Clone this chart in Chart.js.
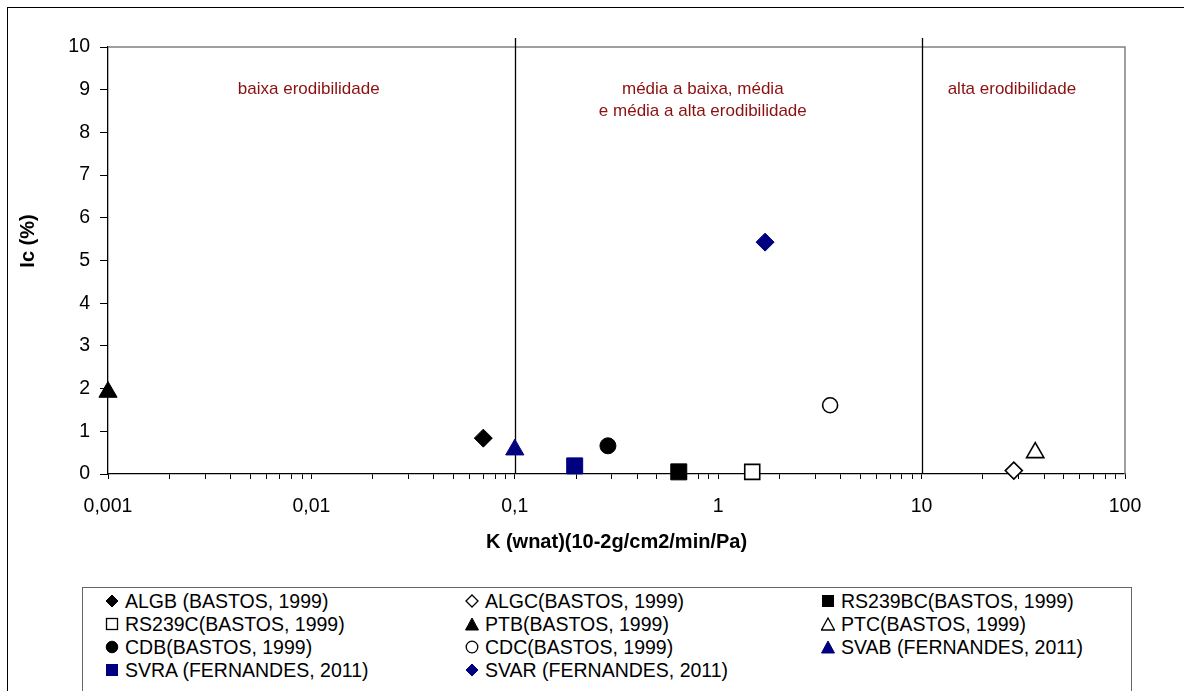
<!DOCTYPE html>
<html>
<head>
<meta charset="utf-8">
<script src="https://cdn.jsdelivr.net/npm/chart.js@4.4.0/dist/chart.umd.min.js"></script>
<style>
body { margin: 0; background: #fff; }
#wrap { position: relative; width: 1184px; height: 691px; overflow: hidden; font-family: Arial, "Liberation Sans", sans-serif; }
#frame { position: absolute; left: 7px; top: 7px; width: 1300px; height: 800px; border-left: 1px solid #000; border-top: 1px solid #000; }
#chart { position: absolute; left: 0; top: 0; }
#legend { position: absolute; left: 82px; top: 587px; width: 1048px; height: 140px; border: 1px solid #666; background: #fff; }
.item { position: absolute; display: flex; align-items: center; height: 23px; font-size: 19.5px; white-space: nowrap; color: #000; }
.item svg { margin-right: 6px; }
</style>
</head>
<body>
<div id="wrap">
  <div id="frame"></div>
  <canvas id="chart" width="1184" height="691"></canvas>
  <div id="legend"></div>
</div>
<script>
// series (one point each)
const seriesNames = ['ALGB (BASTOS, 1999)', 'ALGC(BASTOS, 1999)', 'RS239BC(BASTOS, 1999)',
    'RS239C(BASTOS, 1999)', 'PTB(BASTOS, 1999)', 'PTC(BASTOS, 1999)',
    'CDB(BASTOS, 1999)', 'CDC(BASTOS, 1999)', 'SVAB (FERNANDES, 2011)',
    'SVRA (FERNANDES, 2011)', 'SVAR (FERNANDES, 2011)']
const kValues = [0.07, 28.4, 0.64, 1.47, 0.001, 36.2, 0.287, 3.55, 0.1, 0.197, 1.70]
const icValues = [0.84, 0.08, 0.05, 0.05, 1.92, 0.50, 0.66, 1.61, 0.57, 0.19, 5.43]

// axes
const xMajorTicks = [0.001, 0.01, 0.1, 1, 10, 100]
const xTickLabels = ['0,001', '0,01', '0,1', '1', '10', '100']
const yTicks = [0, 1, 2, 3, 4, 5, 6, 7, 8, 9, 10]

// erodibility class limits and their labels
const classLimits = [0.1, 10]
const classTexts = [['baixa erodibilidade'], ['média a baixa, média', 'e média a alta erodibilidade'], ['alta erodibilidade']]
const classTextK = [0.0097, 0.84, 27.8]
const classTextIc = 9.02

// marker styles, same order as seriesNames
const markers = [
    { shape: 'rectRot', fill: '#000', stroke: '#000', r: 9 },
    { shape: 'rectRot', fill: '#fff', stroke: '#000', r: 8.5 },
    { shape: 'rect', fill: '#000', stroke: '#000', r: 11.3 },
    { shape: 'rect', fill: '#fff', stroke: '#000', r: 10.6 },
    { shape: 'triangle', fill: '#000', stroke: '#000', r: 10.5 },
    { shape: 'triangle', fill: '#fff', stroke: '#000', r: 10 },
    { shape: 'circle', fill: '#000', stroke: '#000', r: 8 },
    { shape: 'circle', fill: '#fff', stroke: '#000', r: 7.5 },
    { shape: 'triangle', fill: '#000080', stroke: '#000080', r: 10.5 },
    { shape: 'rect', fill: '#000080', stroke: '#000080', r: 11.3 },
    { shape: 'rectRot', fill: '#000080', stroke: '#000080', r: 9 }
]

const FONT = 'Arial, "Liberation Sans", sans-serif'
const RED = '#8b1010'

let datasets = seriesNames.map((name, i) => ({
    label: name,
    data: [{ x: kValues[i], y: icValues[i] }],
    pointStyle: markers[i].shape,
    pointRadius: markers[i].r,
    pointHoverRadius: markers[i].r,
    backgroundColor: markers[i].fill,
    borderColor: markers[i].stroke,
    pointBorderWidth: markers[i].fill === '#fff' ? 1.6 : 1,
    showLine: false,
    clip: false
}))

const framePlugin = {
    id: 'frame',
    beforeDatasetsDraw(chart) {
        const { ctx, chartArea: a, scales } = chart
        ctx.save()
        // gray top / right border of plot area
        ctx.strokeStyle = '#808080'
        ctx.lineWidth = 1.5
        ctx.beginPath()
        ctx.moveTo(a.left, a.top)
        ctx.lineTo(a.right, a.top)
        ctx.lineTo(a.right, a.bottom)
        ctx.stroke()
        // class limits
        ctx.strokeStyle = '#000'
        ctx.lineWidth = 1.3
        classLimits.forEach(v => {
            const x = Math.round(scales.x.getPixelForValue(v)) + 0.5
            ctx.beginPath()
            ctx.moveTo(x, a.top - 9)
            ctx.lineTo(x, a.bottom)
            ctx.stroke()
        })
        // class labels
        ctx.fillStyle = RED
        ctx.font = '17px ' + FONT
        ctx.textAlign = 'center'
        ctx.textBaseline = 'middle'
        classTexts.forEach((lines, i) => {
            const x = scales.x.getPixelForValue(classTextK[i])
            const y = scales.y.getPixelForValue(classTextIc)
            lines.forEach((t, j) => ctx.fillText(t, x, y + j * 22))
        })
        // y axis title
        ctx.fillStyle = '#000'
        ctx.font = 'bold 20px ' + FONT
        ctx.translate(28, 241)
        ctx.rotate(-Math.PI / 2)
        ctx.fillText('Ic (%)', 0, 0)
        ctx.restore()
    }
}

let chart = new Chart(document.getElementById('chart'), {
    type: 'scatter',
    data: { datasets: datasets },
    plugins: [framePlugin],
    options: {
        responsive: false,
        animation: false,
        layout: { padding: { left: 8, top: 47, right: 59, bottom: 137 } },
        plugins: { legend: { display: false }, tooltip: { enabled: false } },
        scales: {
            x: {
                type: 'logarithmic',
                min: 0.001,
                max: 100,
                afterFit: s => { s.height = 80 },
                afterBuildTicks: s => {
                    let t = []
                    xMajorTicks.forEach((m, i) => {
                        t.push({ value: m })
                        if (i < xMajorTicks.length - 1) {
                            for (let k = 2; k <= 9; k++) t.push({ value: m * k })
                        }
                    })
                    s.ticks = t
                },
                grid: { display: true, drawOnChartArea: false, drawTicks: true, tickLength: 5, color: '#000' },
                border: { color: '#000', width: 1.3 },
                ticks: {
                    autoSkip: false,
                    maxRotation: 0,
                    padding: 16,
                    color: '#000',
                    font: { family: FONT, size: 19.5 },
                    callback: v => {
                        const i = xMajorTicks.findIndex(m => Math.abs(m - v) / m < 1e-6)
                        return i >= 0 ? xTickLabels[i] : ''
                    }
                },
                title: {
                    display: true,
                    text: 'K (wnat)(10-2g/cm2/min/Pa)',
                    color: '#000',
                    font: { family: FONT, size: 20, weight: 'bold' },
                    padding: { top: 0, bottom: 0 }
                }
            },
            y: {
                min: 0,
                max: 10,
                afterFit: s => { s.width = 100 },
                afterBuildTicks: s => { s.ticks = yTicks.map(v => ({ value: v })) },
                grid: { display: true, drawOnChartArea: false, drawTicks: true, tickLength: 8, color: '#000' },
                border: { color: '#000', width: 1.3 },
                ticks: {
                    padding: 10,
                    color: '#000',
                    font: { family: FONT, size: 19.5 }
                }
            }
        }
    }
})

// legend, 3 columns like the original
const legendCols = [29, 389, 745]
const legendRows = [13, 36, 59, 82]
function markerSvg(m) {
    const sw = m.fill === '#fff' ? 1.3 : 1
    let shape
    if (m.shape === 'rectRot') shape = `<polygon points="7,1 13,7 7,13 1,7" />`
    else if (m.shape === 'rect') shape = `<rect x="1.5" y="1.5" width="11" height="11" />`
    else if (m.shape === 'triangle') shape = `<polygon points="7,1 13.5,13 0.5,13" />`
    else shape = `<circle cx="7" cy="7" r="5.8" />`
    return `<svg width="14" height="14" viewBox="0 0 14 14"><g fill="${m.fill}" stroke="${m.stroke}" stroke-width="${sw}">${shape}</g></svg>`
}
const legendBox = document.getElementById('legend')
seriesNames.forEach((name, i) => {
    const el = document.createElement('div')
    el.className = 'item'
    el.style.left = (legendCols[i % 3] - 7) + 'px'
    el.style.top = (legendRows[Math.floor(i / 3)] - 11.5) + 'px'
    el.innerHTML = markerSvg(markers[i]) + '<span>' + name + '</span>'
    legendBox.appendChild(el)
})
</script>
</body>
</html>
